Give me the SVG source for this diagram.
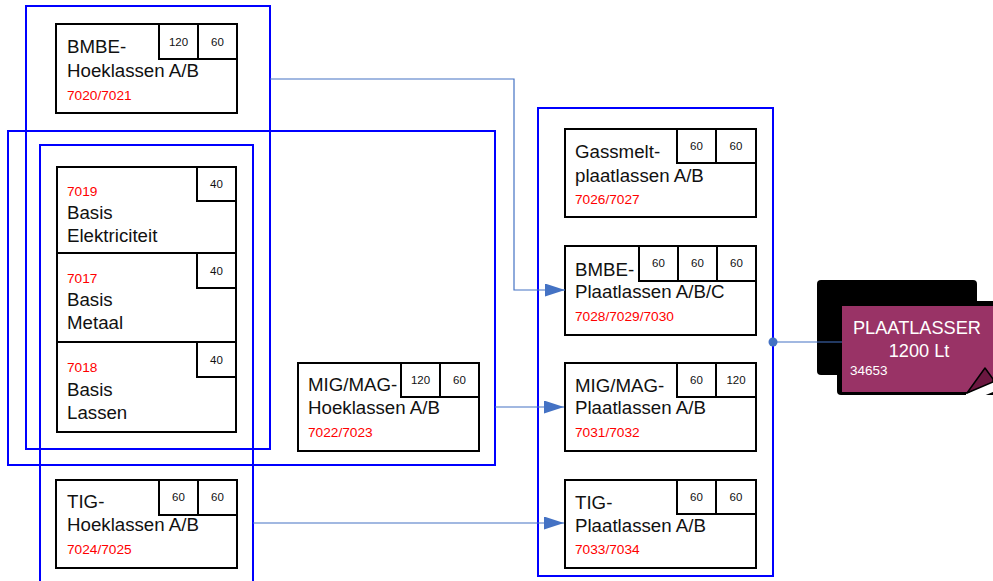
<svg xmlns="http://www.w3.org/2000/svg" width="993" height="581" viewBox="0 0 993 581">
<defs>
<style>
.box{fill:#fff;stroke:#000;stroke-width:2}
.cell{fill:#fff;stroke:#000;stroke-width:2}
.grp{fill:none;stroke:#0000ff;stroke-width:2}
.t{font-family:"Liberation Sans",Arial,Helvetica,sans-serif;font-size:18.7px;fill:#111}
.r{font-family:"Liberation Sans",Arial,Helvetica,sans-serif;font-size:13.7px;fill:#ff0000}
.n{font-family:"Liberation Sans",Arial,Helvetica,sans-serif;font-size:11.5px;fill:#111;text-anchor:middle}
.w{font-family:"Liberation Sans",Arial,Helvetica,sans-serif;fill:#fff}
.c{fill:none;stroke:#4472c4;stroke-width:1.2}
</style>
<marker id="arr" viewBox="0 0 20 13" refX="20" refY="6.5" markerWidth="20" markerHeight="13" markerUnits="userSpaceOnUse" orient="auto">
<path d="M0,0 L20,6.5 L0,13 Z" fill="#4472c4"/>
</marker>
</defs>
<rect width="993" height="581" fill="#fff"/>

<g id="nodes">
<g id="bmbe-hoek">
<rect class="box" x="56" y="24" width="181" height="89"/>
<rect class="cell" x="159" y="24" width="39" height="35"/>
<rect class="cell" x="198" y="24" width="39" height="35"/>
<text class="n" x="178.5" y="46">120</text>
<text class="n" x="217.5" y="46">60</text>
<text class="t" x="67" y="53">BMBE-</text>
<text class="t" x="67" y="77">Hoeklassen A/B</text>
<text class="r" x="67" y="100">7020/7021</text>
</g>
<g id="basis-elek">
<rect class="box" x="57" y="167" width="179" height="86"/>
<rect class="cell" x="197" y="167" width="39" height="34"/>
<text class="n" x="216.5" y="188">40</text>
<text class="r" x="67" y="196">7019</text>
<text class="t" x="67" y="219">Basis</text>
<text class="t" x="67" y="242">Elektriciteit</text>
</g>
<g id="basis-metaal">
<rect class="box" x="57" y="253" width="179" height="89"/>
<rect class="cell" x="197" y="253" width="39" height="35"/>
<text class="n" x="216.5" y="275">40</text>
<text class="r" x="67" y="283">7017</text>
<text class="t" x="67" y="306">Basis</text>
<text class="t" x="67" y="329">Metaal</text>
</g>
<g id="basis-lassen">
<rect class="box" x="57" y="342" width="179" height="90"/>
<rect class="cell" x="197" y="342" width="39" height="35"/>
<text class="n" x="216.5" y="364">40</text>
<text class="r" x="67" y="372">7018</text>
<text class="t" x="67" y="396">Basis</text>
<text class="t" x="67" y="419">Lassen</text>
</g>
<g id="migmag-hoek">
<rect class="box" x="298" y="363" width="181" height="88"/>
<rect class="cell" x="401" y="363" width="39" height="34"/>
<rect class="cell" x="440" y="363" width="39" height="34"/>
<text class="n" x="420.5" y="384">120</text>
<text class="n" x="459.5" y="384">60</text>
<text class="t" x="308" y="391">MIG/MAG-</text>
<text class="t" x="308" y="414">Hoeklassen A/B</text>
<text class="r" x="308" y="437">7022/7023</text>
</g>
<g id="tig-hoek">
<rect class="box" x="56" y="480" width="181" height="88"/>
<rect class="cell" x="159" y="480" width="39" height="35"/>
<rect class="cell" x="198" y="480" width="39" height="35"/>
<text class="n" x="178.5" y="501">60</text>
<text class="n" x="217.5" y="501">60</text>
<text class="t" x="67" y="508">TIG-</text>
<text class="t" x="67" y="531">Hoeklassen A/B</text>
<text class="r" x="67" y="554">7024/7025</text>
</g>
<g id="gassmelt">
<rect class="box" x="565" y="129" width="191" height="88"/>
<rect class="cell" x="677" y="129" width="39" height="34"/>
<rect class="cell" x="716" y="129" width="40" height="34"/>
<text class="n" x="696.5" y="150">60</text>
<text class="n" x="736" y="150">60</text>
<text class="t" x="575" y="158">Gassmelt-</text>
<text class="t" x="575" y="182">plaatlassen A/B</text>
<text class="r" x="575" y="204">7026/7027</text>
</g>
<g id="bmbe-plaat">
<rect class="box" x="565" y="246" width="191" height="89"/>
<rect class="cell" x="639" y="246" width="39" height="35"/>
<rect class="cell" x="678" y="246" width="39" height="35"/>
<rect class="cell" x="717" y="246" width="39" height="35"/>
<text class="n" x="658.5" y="267">60</text>
<text class="n" x="697.5" y="267">60</text>
<text class="n" x="736.5" y="267">60</text>
<text class="t" x="575" y="276">BMBE-</text>
<text class="t" x="575" y="298">Plaatlassen A/B/C</text>
<text class="r" x="575" y="321">7028/7029/7030</text>
</g>
<g id="migmag-plaat">
<rect class="box" x="565" y="363" width="191" height="88"/>
<rect class="cell" x="677" y="363" width="39" height="34"/>
<rect class="cell" x="716" y="363" width="40" height="34"/>
<text class="n" x="696.5" y="384">60</text>
<text class="n" x="736" y="384">120</text>
<text class="t" x="575" y="392">MIG/MAG-</text>
<text class="t" x="575" y="414">Plaatlassen A/B</text>
<text class="r" x="575" y="437">7031/7032</text>
</g>
<g id="tig-plaat">
<rect class="box" x="565" y="480" width="191" height="88"/>
<rect class="cell" x="677" y="480" width="39" height="34"/>
<rect class="cell" x="716" y="480" width="40" height="34"/>
<text class="n" x="696.5" y="501">60</text>
<text class="n" x="736" y="501">60</text>
<text class="t" x="575" y="509">TIG-</text>
<text class="t" x="575" y="532">Plaatlassen A/B</text>
<text class="r" x="575" y="554">7033/7034</text>
</g>
<g id="plaatlasser">
<rect x="817" y="280" width="160" height="95" rx="4" fill="#000"/>
<rect x="837" y="301" width="170" height="94" rx="4" fill="#000"/>
<rect x="842" y="306" width="160" height="86" fill="#993366"/>
<polygon points="966,394 993,381 993,392 976,399 966,399" fill="#fff"/>
<polygon points="967,393 985,368 993,379 993,382" fill="#6b1740" stroke="#000" stroke-width="1.5" stroke-linejoin="round"/>
<text class="w" x="917" y="334" font-size="18.2" text-anchor="middle">PLAATLASSER</text>
<text class="w" x="919" y="357" font-size="18.2" text-anchor="middle">1200 Lt</text>
<text class="w" x="850" y="375" font-size="13.5">34653</text>
</g>
</g>

<g id="groups">
<rect class="grp" x="26" y="6" width="244" height="443"/>
<rect class="grp" x="8" y="131" width="487" height="334"/>
<rect class="grp" x="40" y="145" width="213" height="450"/>
<rect class="grp" x="538" y="108" width="235" height="468"/>
</g>

<g id="connectors">
<path class="c" d="M270,79 H514 V290 H565" marker-end="url(#arr)"/>
<path class="c" d="M495,407 H564" marker-end="url(#arr)"/>
<path class="c" d="M253,523 H564" marker-end="url(#arr)"/>
<path class="c" d="M773,342 H842"/>
<circle cx="773" cy="342" r="4.5" fill="#4472c4"/>
</g>
</svg>
